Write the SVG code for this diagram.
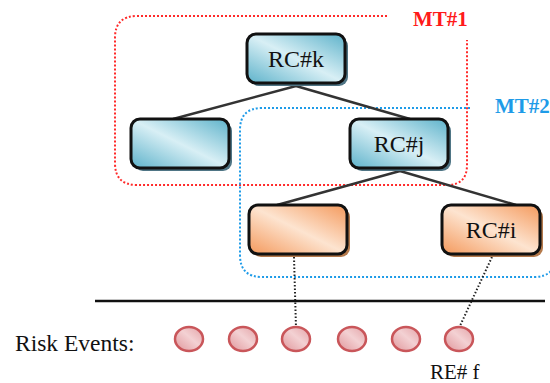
<svg xmlns="http://www.w3.org/2000/svg" width="550" height="383" viewBox="0 0 550 383">
<style>
.box{stroke:#111;stroke-width:3}
.shb{fill:#4f7585}
.sho{fill:#b57a4c}
.lbl{font-family:"Liberation Serif","Times New Roman",serif;font-size:24px;fill:#111;text-anchor:middle}
.txt{font-family:"Liberation Serif","Times New Roman",serif;fill:#111}
.conn{stroke:#333;stroke-width:2.5;fill:none}
.dot{stroke:#222;stroke-width:2;stroke-dasharray:1.5 2;fill:none}
.re{fill:url(#gr);stroke:#c9565a;stroke-width:2.5}
</style>
<defs>
<linearGradient id="gb" x1="0" y1="1" x2="1" y2="0">
<stop offset="0" stop-color="#5db2ca"/>
<stop offset="0.5" stop-color="#d8eff5"/>
<stop offset="1" stop-color="#5db2ca"/>
</linearGradient>
<linearGradient id="go" x1="0" y1="1" x2="1" y2="0">
<stop offset="0" stop-color="#f4995c"/>
<stop offset="0.5" stop-color="#fde4d0"/>
<stop offset="1" stop-color="#f4995c"/>
</linearGradient>
<linearGradient id="gr" x1="0" y1="1" x2="1" y2="0">
<stop offset="0" stop-color="#e0959a"/>
<stop offset="0.55" stop-color="#f3d1d3"/>
<stop offset="1" stop-color="#e3a2a6"/>
</linearGradient>
</defs>
<g id="groups">
<path d="M387,16 H137 Q115,16 115,38 V163 Q115,185 137,185 H447 Q467,185 467,165 V40" fill="none" stroke="#ff2a2a" stroke-width="2" stroke-dasharray="2 2"/>
<text x="413" y="26" class="txt" style="font-size:21px;font-weight:bold;fill:#ff1a1a">MT#1</text>
<path d="M470,108 H262 Q240,108 240,130 V255 Q240,277 262,277 H534 Q556,277 556,255 V200" fill="none" stroke="#1e9be8" stroke-width="2" stroke-dasharray="2 2"/>
<text x="495" y="113" class="txt" style="font-size:21px;font-weight:bold;fill:#1e9be8">MT#2</text>
</g>
<g id="connectors">
<line class="conn" x1="296" y1="86" x2="173" y2="119"/>
<line class="conn" x1="296" y1="86" x2="410" y2="119"/>
<line class="conn" x1="400" y1="171" x2="277" y2="205"/>
<line class="conn" x1="400" y1="171" x2="516" y2="205"/>
<line class="dot" x1="294" y1="257" x2="296" y2="328"/>
<line class="dot" x1="492" y1="257" x2="459" y2="328"/>
<line x1="95" y1="301" x2="545" y2="301" stroke="#111" stroke-width="2.5"/>
</g>
<g id="rck">
<rect class="shb" x="250" y="37" width="98" height="49" rx="9"/>
<rect class="box" x="247" y="34" width="98" height="49" rx="9" fill="url(#gb)"/>
<text class="lbl" x="296" y="67">RC#k</text>
</g>
<g id="left">
<rect class="shb" x="134" y="122" width="98" height="49" rx="9"/>
<rect class="box" x="131" y="119" width="98" height="49" rx="9" fill="url(#gb)"/>
</g>
<g id="rcj">
<rect class="shb" x="353" y="122" width="98" height="49" rx="9"/>
<rect class="box" x="350" y="119" width="98" height="49" rx="9" fill="url(#gb)"/>
<text class="lbl" x="399" y="152">RC#j</text>
</g>
<g id="orange">
<rect class="sho" x="252" y="208" width="98" height="49" rx="9"/>
<rect class="box" x="249" y="205" width="98" height="49" rx="9" fill="url(#go)"/>
</g>
<g id="rci">
<rect class="sho" x="445" y="208" width="98" height="49" rx="9"/>
<rect class="box" x="442" y="205" width="98" height="49" rx="9" fill="url(#go)"/>
<text class="lbl" x="491" y="238">RC#i</text>
</g>
<g id="events">
<text class="txt" x="15" y="351" style="font-size:23.5px">Risk Events:</text>
<ellipse class="re" cx="189" cy="339" rx="14" ry="12"/>
<ellipse class="re" cx="243" cy="339" rx="14" ry="12"/>
<ellipse class="re" cx="296" cy="339" rx="14" ry="12"/>
<ellipse class="re" cx="352" cy="339" rx="14" ry="12"/>
<ellipse class="re" cx="406" cy="339" rx="14" ry="12"/>
<ellipse class="re" cx="459" cy="339" rx="14" ry="12"/>
<text class="txt" x="430" y="379" style="font-size:21px">RE# f</text>
</g>
</svg>
